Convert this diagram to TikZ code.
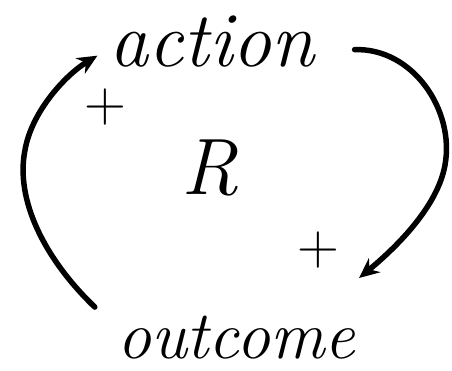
\documentclass[tikz,border=0pt]{standalone}
\usetikzlibrary{arrows.meta}
\begin{document}
\begin{tikzpicture}[x=1pt,y=-1pt,
  word/.style={font=\fontsize{82}{82}\selectfont\itshape, inner sep=0pt, anchor=base},
  sign/.style={font=\fontsize{58}{58}\selectfont, inner sep=0pt},
  link/.style={line width=5.5pt, line cap=round, -{Stealth[length=20pt,width=18pt]}}]
\useasboundingbox (0,0) rectangle (452,371);
\node[word, text depth=0pt, font=\fontsize{78}{78}\selectfont\itshape] (a) at (212,67) {action};
\node[word, font=\fontsize{68}{68}\selectfont\itshape] (o) at (236,358) {outcome};
\node[word, font=\fontsize{80}{80}\selectfont\itshape] (r) at (210,195) {R};
\node[sign] (p1) at (105,107) {+};
\node[sign] (p2) at (318,250) {+};
\coordinate (ostart) at ([shift={(-22,-30)}]o.west);
\coordinate (aend) at ([shift={(-12,14)}]a.west);
\coordinate (astart) at ([shift={(40,8)}]a.east);
\coordinate (oend) at ([shift={(20,28)}]p2.east);
\draw[link] (ostart) .. controls +(-50,-48) and +(-10,50) .. (25,150)
  .. controls +(7,-40) and +(-30,18) .. (aend);
\draw[link] (astart) .. controls +(58,-2) and +(10,-55) .. (445,165)
  .. controls +(-7,40) and +(40,-33) .. (oend);
\end{tikzpicture}
\end{document}
